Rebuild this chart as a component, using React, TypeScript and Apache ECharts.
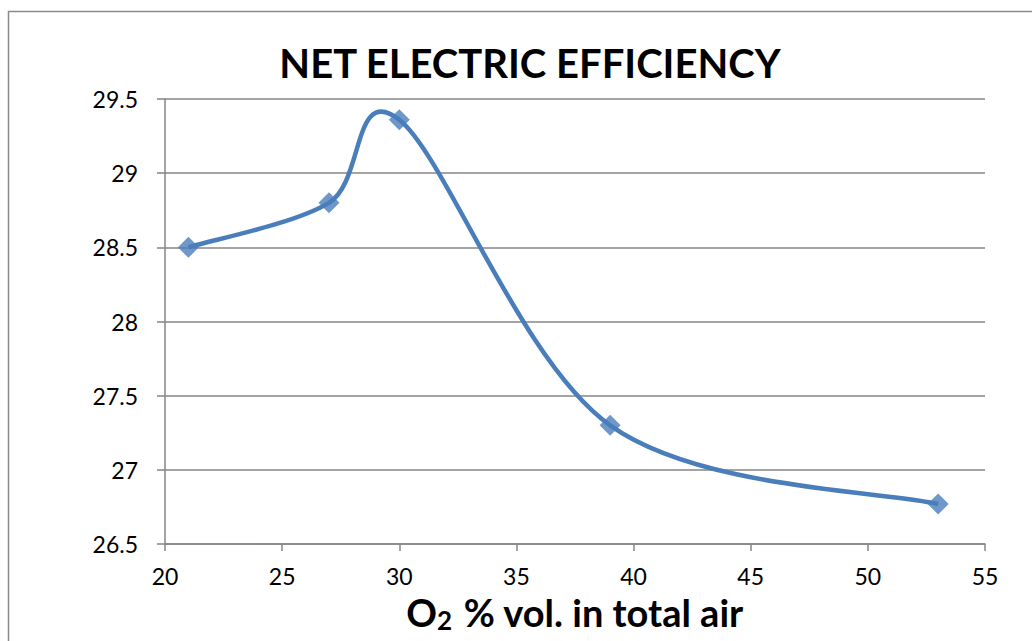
import React, { useEffect, useRef } from "react";
import * as echarts from "echarts";

const xValues = [21, 27, 30, 39, 53];
const yValues = [28.5, 28.8, 29.36, 27.3, 26.77];
const titleText = "NET ELECTRIC EFFICIENCY";
const xTicks = { min: 20, max: 55, step: 5 };
const yTicks = { min: 26.5, max: 29.5, step: 0.5 };

export default function App() {
  const ref = useRef<HTMLDivElement>(null);
  useEffect(() => {
    document.body.style.margin = "0";
    const chart = echarts.init(ref.current!, null, { renderer: "svg" });
    const font = "Lato, 'Open Sans', sans-serif";
    const lineColor = "#4a7ebb";
    const points = xValues.map((x, i) => [x, yValues[i]]);
    chart.setOption({
      animation: false,
      backgroundColor: "#ffffff",
      title: {
        text: titleText,
        left: 525,
        textAlign: "center",
        top: 38,
        textStyle: { fontFamily: font, fontSize: 40, fontWeight: "bold", color: "#000" },
      },
      graphic: [
        {
          type: "rect",
          shape: { x: 8.5, y: 11.5, width: 1100, height: 700 },
          style: { fill: "none", stroke: "#8a8a8a", lineWidth: 1.5 },
          silent: true,
        },
      ],
      grid: { left: 165, right: 47, top: 99, bottom: 97, containLabel: false, outerBoundsMode: "none" },
      xAxis: {
        type: "value",
        min: xTicks.min,
        max: xTicks.max,
        interval: xTicks.step,
        name: "O{sub|2} % vol. in total air",
        nameLocation: "middle",
        nameGap: 47,
        nameTextStyle: {
          fontFamily: font,
          fontSize: 38,
          fontWeight: "bold",
          color: "#000",
          rich: {
            sub: { fontFamily: font, fontSize: 26, fontWeight: "bold", color: "#000", padding: [16, 2, 0, 0] },
          },
        },
        axisLine: { show: true, lineStyle: { color: "#868686", width: 1.5 } },
        axisTick: { show: true, length: 7, lineStyle: { color: "#868686", width: 1.5 } },
        axisLabel: { fontFamily: font, fontSize: 23, color: "#000", margin: 20 },
        splitLine: { show: false },
      },
      yAxis: {
        type: "value",
        min: yTicks.min,
        max: yTicks.max,
        interval: yTicks.step,
        axisLine: { show: true, lineStyle: { color: "#868686", width: 1.5 } },
        axisTick: { show: true, inside: false, length: 8, lineStyle: { color: "#868686", width: 1.5 } },
        axisLabel: {
          fontFamily: font,
          fontSize: 23,
          color: "#000",
          margin: 27,
          formatter: (v: number) => String(Math.round(v * 10) / 10),
        },
        splitLine: { show: true, lineStyle: { color: "#868686", width: 1.5 } },
      },
      series: [
        {
          type: "custom",
          data: points,
          renderItem: (params: any, api: any) => {
            if (params.dataIndex !== 0) return null;
            const p = xValues.map((x, i) => api.coord([x, yValues[i]]));
            const n = p.length;
            let d = `M${p[0][0]},${p[0][1]}`;
            for (let i = 0; i < n - 1; i++) {
              const p0 = p[Math.max(i - 1, 0)];
              const p1 = p[i];
              const p2 = p[i + 1];
              const p3 = p[Math.min(i + 2, n - 1)];
              const c1x = p1[0] + (p2[0] - p0[0]) / 6;
              const c1y = p1[1] + (p2[1] - p0[1]) / 6;
              const c2x = p2[0] - (p3[0] - p1[0]) / 6;
              const c2y = p2[1] - (p3[1] - p1[1]) / 6;
              d += ` C${c1x},${c1y} ${c2x},${c2y} ${p2[0]},${p2[1]}`;
            }
            return {
              type: "path",
              shape: { pathData: d },
              style: { fill: "none", stroke: lineColor, lineWidth: 4.5 },
              silent: true,
            };
          },
          z: 2,
        },
        {
          type: "scatter",
          data: points,
          symbol: "diamond",
          symbolSize: 21,
          itemStyle: { color: lineColor },
          z: 3,
        },
      ],
    });
    return () => chart.dispose();
  }, []);
  return <div ref={ref} style={{ width: 1032, height: 641 }} />;
}
